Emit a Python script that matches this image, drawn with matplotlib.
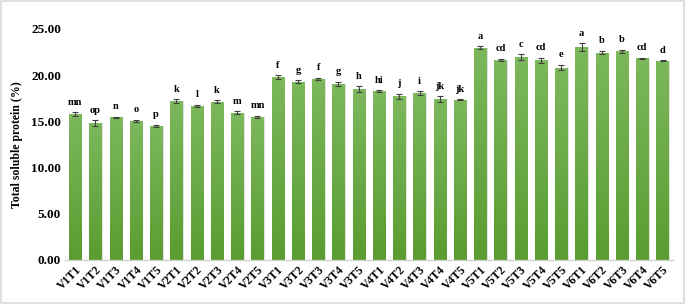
import matplotlib
matplotlib.use("Agg")
import matplotlib.pyplot as plt
import numpy as np
from matplotlib.colors import LinearSegmentedColormap
from matplotlib.patches import Rectangle

treatments = [
    "V1T1", "V1T2", "V1T3", "V1T4", "V1T5",
    "V2T1", "V2T2", "V2T3", "V2T4", "V2T5",
    "V3T1", "V3T2", "V3T3", "V3T4", "V3T5",
    "V4T1", "V4T2", "V4T3", "V4T4", "V4T5",
    "V5T1", "V5T2", "V5T3", "V5T4", "V5T5",
    "V6T1", "V6T2", "V6T3", "V6T4", "V6T5",
]
protein = [
    15.77, 14.80, 15.44, 15.04, 14.50,
    17.20, 16.70, 17.13, 15.95, 15.50,
    19.77, 19.30, 19.60, 19.05, 18.47,
    18.25, 17.70, 18.07, 17.40, 17.35,
    22.98, 21.65, 21.94, 21.60, 20.80,
    23.05, 22.44, 22.58, 21.80, 21.54,
]
errors = [
    0.20, 0.30, 0.05, 0.15, 0.15,
    0.20, 0.10, 0.15, 0.15, 0.10,
    0.20, 0.15, 0.10, 0.20, 0.30,
    0.10, 0.30, 0.20, 0.30, 0.05,
    0.15, 0.10, 0.30, 0.30, 0.30,
    0.40, 0.20, 0.15, 0.05, 0.05,
]
letters = [
    "mn", "op", "n", "o", "p",
    "k", "l", "k", "m", "mn",
    "f", "g", "f", "g", "h",
    "hi", "j", "i", "jk", "jk",
    "a", "cd", "c", "cd", "e",
    "a", "b", "b", "cd", "d",
]

serif = ["Liberation Serif", "DejaVu Serif"]

fig = plt.figure(figsize=(6.85, 3.04), dpi=100)
fig.patches.append(Rectangle((0.002, 0.003), 0.996, 0.994, transform=fig.transFigure,
                             fill=False, edgecolor="#d9d9d9", linewidth=1.2))
ax = fig.add_axes([0.095, 0.145, 0.887, 0.76])

x = np.arange(len(treatments))
bars = ax.bar(x, protein, width=0.6, color="none", edgecolor="none", zorder=2)

# vertical green gradient inside each bar
green = LinearSegmentedColormap.from_list("g", ["#5a9c31", "#7cb85c"])
grad = np.linspace(0, 1, 256).reshape(-1, 1)
for b in bars:
    x0, w, h = b.get_x(), b.get_width(), b.get_height()
    shadow = Rectangle((x0 + 0.06, 0), w, h, facecolor="#cfcfcf", edgecolor="none",
                       alpha=0.6, zorder=1)
    ax.add_patch(shadow)
    im = ax.imshow(grad, cmap=green, aspect="auto", extent=(x0, x0 + w, 0, h),
                   origin="lower", zorder=2)
    im.set_clip_path(b)

ax.errorbar(x, protein, yerr=errors, fmt="none", ecolor="#404040", elinewidth=0.8,
            capsize=2, capthick=0.8, zorder=3)

for xi, v, e, lab in zip(x, protein, errors, letters):
    ax.annotate(lab, (xi, v + e), xytext=(0, 4), textcoords="offset points",
                ha="center", va="bottom", fontsize=7.5, fontweight="bold", family=serif)

ax.set_xlim(-0.5, len(treatments) - 0.5)
ax.set_ylim(0, 25)
ax.set_yticks(np.arange(0, 25.01, 5))
ax.set_yticklabels([f"{t:.2f}" for t in np.arange(0, 25.01, 5)],
                   fontsize=9.5, fontweight="bold", family=serif)
ax.set_xticks(x)
ax.set_xticklabels(treatments, rotation=45, ha="right", rotation_mode="anchor",
                   fontsize=8.5, fontweight="bold", family=serif)
ax.tick_params(axis="both", length=0, pad=3)
ax.set_ylabel("Total soluble protein (%)", fontsize=8.5, fontweight="bold",
              family=serif, labelpad=6)

for s in ["top", "right", "left"]:
    ax.spines[s].set_visible(False)
ax.spines["bottom"].set_color("#d0d0d0")
ax.spines["bottom"].set_linewidth(1.0)

fig.savefig("out.png", dpi=100)
